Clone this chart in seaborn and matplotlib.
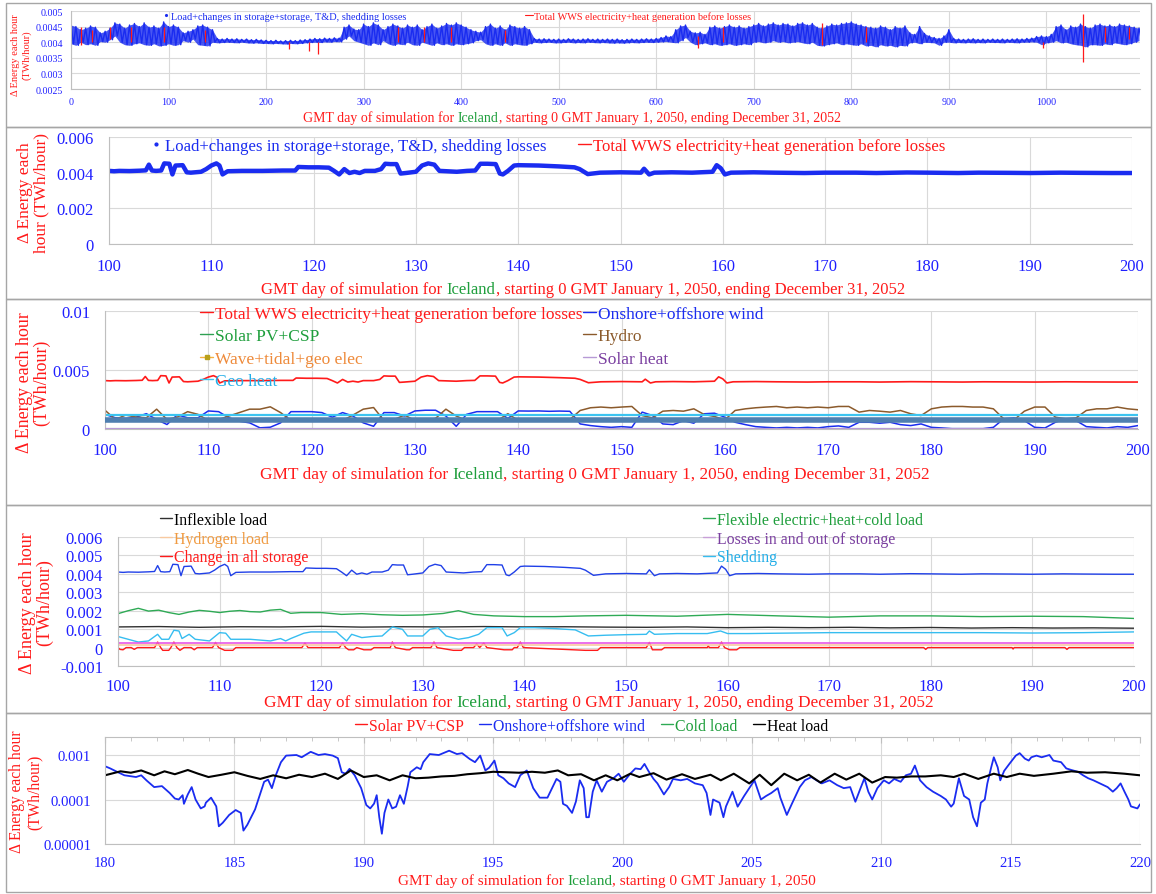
import numpy as np
import matplotlib
matplotlib.use("Agg")
import matplotlib.pyplot as plt
import seaborn as sns
from matplotlib.lines import Line2D
from matplotlib.legend import Legend
from matplotlib.patches import Rectangle
from matplotlib.ticker import MultipleLocator, FuncFormatter, LogLocator, NullFormatter

# ---------------- data ----------------
# panel 1: whole 3-year run, band of hourly load sampled every 5 days (upper / lower edge)
p1_day = np.arange(0, 1096, 5)
p1_hi = [
    0.00455, 0.00450, 0.00440, 0.00445, 0.00452, 0.00448, 0.00430, 0.00435, 0.00445, 0.00462,
    0.00458, 0.00445, 0.00455, 0.00460, 0.00450, 0.00462, 0.00448, 0.00452, 0.00445, 0.00465,
    0.00450, 0.00455, 0.00448, 0.00430, 0.00435, 0.00440, 0.00452, 0.00455, 0.00448, 0.00440,
    0.00412, 0.00410, 0.00412, 0.00410, 0.00411, 0.00409, 0.00410, 0.00408, 0.00409, 0.00407,
    0.00406, 0.00405, 0.00406, 0.00404, 0.00405, 0.00406, 0.00405, 0.00407, 0.00408, 0.00410,
    0.00412, 0.00411, 0.00413, 0.00412, 0.00414, 0.00413, 0.00448, 0.00455, 0.00442, 0.00440,
    0.00458, 0.00450, 0.00462, 0.00455, 0.00440, 0.00450, 0.00458, 0.00452, 0.00445, 0.00455,
    0.00448, 0.00455, 0.00440, 0.00450, 0.00458, 0.00445, 0.00452, 0.00460, 0.00455, 0.00462,
    0.00455, 0.00448, 0.00440, 0.00435, 0.00432, 0.00450, 0.00458, 0.00445, 0.00452, 0.00440,
    0.00455, 0.00450, 0.00445, 0.00450, 0.00440, 0.00412, 0.00410, 0.00411, 0.00410, 0.00409,
    0.00410, 0.00409, 0.00411, 0.00410, 0.00409, 0.00410, 0.00411, 0.00409, 0.00410, 0.00409,
    0.00410, 0.00409, 0.00410, 0.00408, 0.00409, 0.00410, 0.00409, 0.00410, 0.00411, 0.00410,
    0.00412, 0.00415, 0.00420, 0.00418, 0.00440, 0.00452, 0.00455, 0.00435, 0.00430, 0.00432,
    0.00425, 0.00448, 0.00452, 0.00445, 0.00450, 0.00455, 0.00448, 0.00452, 0.00445, 0.00450,
    0.00455, 0.00460, 0.00452, 0.00458, 0.00462, 0.00455, 0.00460, 0.00458, 0.00452, 0.00460,
    0.00462, 0.00455, 0.00460, 0.00448, 0.00445, 0.00452, 0.00458, 0.00455, 0.00460, 0.00462,
    0.00465, 0.00458, 0.00455, 0.00450, 0.00448, 0.00445, 0.00452, 0.00448, 0.00440, 0.00450,
    0.00445, 0.00452, 0.00430, 0.00425, 0.00450, 0.00428, 0.00420, 0.00415, 0.00412, 0.00420,
    0.00440, 0.00412, 0.00410, 0.00409, 0.00410, 0.00411, 0.00409, 0.00410, 0.00409, 0.00410,
    0.00409, 0.00410, 0.00409, 0.00410, 0.00411, 0.00410, 0.00412, 0.00413, 0.00418, 0.00420,
    0.00418, 0.00425, 0.00450, 0.00455, 0.00440, 0.00452, 0.00448, 0.00458, 0.00450, 0.00445,
    0.00455, 0.00458, 0.00452, 0.00455, 0.00450, 0.00458, 0.00455, 0.00452, 0.00448, 0.00445,
]
p1_lo = [
    0.00395, 0.00390, 0.00400, 0.00392, 0.00395, 0.00390, 0.00402, 0.00400, 0.00408, 0.00420,
    0.00400, 0.00392, 0.00390, 0.00395, 0.00398, 0.00392, 0.00390, 0.00395, 0.00388, 0.00390,
    0.00395, 0.00390, 0.00392, 0.00405, 0.00400, 0.00410, 0.00392, 0.00390, 0.00388, 0.00400,
    0.00398, 0.00399, 0.00400, 0.00399, 0.00398, 0.00400, 0.00398, 0.00397, 0.00398, 0.00396,
    0.00396, 0.00395, 0.00396, 0.00395, 0.00394, 0.00396, 0.00395, 0.00396, 0.00398, 0.00399,
    0.00400, 0.00399, 0.00401, 0.00400, 0.00402, 0.00401, 0.00410, 0.00420, 0.00405, 0.00400,
    0.00395, 0.00390, 0.00398, 0.00392, 0.00405, 0.00395, 0.00390, 0.00395, 0.00392, 0.00400,
    0.00392, 0.00390, 0.00400, 0.00395, 0.00390, 0.00398, 0.00392, 0.00395, 0.00390, 0.00395,
    0.00392, 0.00395, 0.00398, 0.00405, 0.00408, 0.00395, 0.00390, 0.00395, 0.00390, 0.00398,
    0.00390, 0.00395, 0.00392, 0.00390, 0.00395, 0.00400, 0.00398, 0.00399, 0.00400, 0.00398,
    0.00398, 0.00399, 0.00400, 0.00398, 0.00399, 0.00398, 0.00400, 0.00399, 0.00398, 0.00399,
    0.00398, 0.00397, 0.00398, 0.00397, 0.00398, 0.00399, 0.00398, 0.00399, 0.00400, 0.00399,
    0.00400, 0.00401, 0.00402, 0.00400, 0.00398, 0.00405, 0.00415, 0.00400, 0.00392, 0.00395,
    0.00398, 0.00392, 0.00395, 0.00390, 0.00392, 0.00395, 0.00390, 0.00392, 0.00395, 0.00392,
    0.00400, 0.00402, 0.00398, 0.00400, 0.00405, 0.00400, 0.00402, 0.00398, 0.00400, 0.00402,
    0.00398, 0.00395, 0.00400, 0.00390, 0.00388, 0.00392, 0.00395, 0.00398, 0.00392, 0.00395,
    0.00392, 0.00390, 0.00395, 0.00388, 0.00390, 0.00385, 0.00392, 0.00388, 0.00390, 0.00385,
    0.00390, 0.00388, 0.00398, 0.00400, 0.00395, 0.00400, 0.00399, 0.00398, 0.00390, 0.00400,
    0.00400, 0.00398, 0.00399, 0.00398, 0.00399, 0.00398, 0.00399, 0.00398, 0.00400, 0.00399,
    0.00399, 0.00398, 0.00400, 0.00399, 0.00398, 0.00400, 0.00400, 0.00401, 0.00400, 0.00392,
    0.00398, 0.00400, 0.00405, 0.00398, 0.00400, 0.00395, 0.00392, 0.00390, 0.00385, 0.00392,
    0.00392, 0.00390, 0.00395, 0.00392, 0.00398, 0.00395, 0.00392, 0.00395, 0.00400, 0.00405,
]
# red generation spikes that poke out of the blue band
p1_red_day = [10, 22, 40, 62, 95, 137, 223, 244, 253, 335, 362, 390, 445, 643, 668, 770, 815, 997, 1038, 1060, 1085]
p1_red_lo = [0.0039, 0.0040, 0.0041, 0.0040, 0.0040, 0.0040, 0.00378, 0.00372, 0.00362, 0.0040, 0.0040,
             0.0040, 0.0040, 0.0038, 0.0040, 0.0039, 0.0040, 0.00382, 0.00335, 0.0040, 0.0041]
p1_red_hi = [0.0045, 0.0044, 0.0045, 0.0045, 0.0045, 0.0044, 0.0040, 0.0040, 0.0040, 0.0045, 0.0045,
             0.0045, 0.0044, 0.0042, 0.0045, 0.0046, 0.0045, 0.0040, 0.0049, 0.0045, 0.0045]

# days 100-200: load (= total WWS generation), TWh per hour
load_pts = [
    (100, 0.00410), (100.5, 0.00408), (101, 0.00410), (102, 0.00409), (103, 0.00411),
    (103.6, 0.00413), (103.9, 0.00445), (104.2, 0.00412), (104.6, 0.00410), (105.1, 0.00412),
    (105.4, 0.00452), (105.9, 0.00450), (106.2, 0.00390), (106.5, 0.00440), (107.2, 0.00442),
    (107.6, 0.00402), (108, 0.00400), (109, 0.00405), (109.5, 0.00420), (110, 0.00440),
    (110.5, 0.00452), (110.8, 0.00440), (111.1, 0.00390), (111.6, 0.00408), (113, 0.00410),
    (115, 0.00410), (117, 0.00412), (118.2, 0.00412), (118.5, 0.00432), (119.5, 0.00430),
    (120.5, 0.00430), (121.5, 0.00428), (122, 0.00410), (122.5, 0.00390), (123, 0.00420),
    (123.5, 0.00398), (124, 0.00405), (124.5, 0.00398), (125, 0.00410), (126, 0.00410),
    (126.6, 0.00420), (127, 0.00450), (127.5, 0.00448), (128.1, 0.00448), (128.5, 0.00395),
    (129, 0.00398), (130, 0.00405), (130.6, 0.00440), (131.2, 0.00452), (131.8, 0.00445),
    (132.3, 0.00410), (133, 0.00408), (134, 0.00405), (135, 0.00410), (135.8, 0.00412),
    (136.3, 0.00450), (137, 0.00450), (137.8, 0.00448), (138.2, 0.00395), (138.5, 0.00390),
    (139, 0.00410), (139.6, 0.00440), (140, 0.00442), (142, 0.00440), (144, 0.00435),
    (145.5, 0.00430), (146, 0.00420), (146.8, 0.00392), (148, 0.00400), (150, 0.00402),
    (152, 0.00400), (152.3, 0.00422), (152.8, 0.00390), (153.3, 0.00400), (155, 0.00402),
    (157, 0.00400), (159, 0.00405), (159.4, 0.00442), (159.8, 0.00425), (160.2, 0.00390),
    (160.8, 0.00400), (163, 0.00402), (165, 0.00400), (168, 0.00398), (170, 0.00400),
    (173, 0.00400), (175, 0.00398), (178, 0.00401), (180, 0.00400), (183, 0.00398),
    (185, 0.00400), (188, 0.00399), (190, 0.00398), (193, 0.00400), (195, 0.00399),
    (198, 0.00398), (200, 0.00398),
]
load_day = [d for d, _ in load_pts]
load_val = [v for _, v in load_pts]

# panel 3 generation, one value per day from 100 to 200
p3_day = np.arange(100, 201)
wind_p3 = [
    0.00124, 0.00095, 0.00090, 0.00100, 0.00130, 0.00080, 0.00038, 0.00120, 0.00095, 0.00095,
    0.00153, 0.00147, 0.00095, 0.00066, 0.00052, 0.00010, 0.00015, 0.00052, 0.00147, 0.00147,
    0.00147, 0.00139, 0.00100, 0.00139, 0.00110, 0.00052, 0.00023, 0.00139, 0.00139, 0.00110,
    0.00153, 0.00159, 0.00159, 0.00110, 0.00023, 0.00124, 0.00147, 0.00147, 0.00147, 0.00090,
    0.00153, 0.00152, 0.00153, 0.00150, 0.00152, 0.00150, 0.00043, 0.00029, 0.00020, 0.00014,
    0.00020, 0.00014, 0.00143, 0.00114, 0.00043, 0.00037, 0.00071, 0.00049, 0.00129, 0.00134,
    0.00100, 0.00057, 0.00037, 0.00020, 0.00014, 0.00009, 0.00014, 0.00009, 0.00014, 0.00009,
    0.00020, 0.00026, 0.00014, 0.00057, 0.00057, 0.00049, 0.00057, 0.00037, 0.00029, 0.00043,
    0.00014, 0.00009, 0.00003, 0.00003, 0.00003, 0.00003, 0.00014, 0.00086, 0.00094, 0.00071,
    0.00014, 0.00009, 0.00057, 0.00086, 0.00071, 0.00020, 0.00014, 0.00009, 0.00020, 0.00014,
    0.00029,
]
hydro_p3 = [
    0.00159, 0.00081, 0.00118, 0.00101, 0.00095, 0.00168, 0.00081, 0.00101, 0.00147, 0.00124,
    0.00072, 0.00081, 0.00110, 0.00139, 0.00168, 0.00168, 0.00188, 0.00139, 0.00072, 0.00072,
    0.00072, 0.00072, 0.00074, 0.00072, 0.00118, 0.00168, 0.00182, 0.00072, 0.00081, 0.00118,
    0.00072, 0.00072, 0.00090, 0.00168, 0.00110, 0.00072, 0.00072, 0.00074, 0.00072, 0.00130,
    0.00072, 0.00072, 0.00074, 0.00072, 0.00072, 0.00081, 0.00157, 0.00180, 0.00186, 0.00180,
    0.00186, 0.00191, 0.00114, 0.00094, 0.00151, 0.00157, 0.00151, 0.00171, 0.00123, 0.00106,
    0.00077, 0.00157, 0.00171, 0.00180, 0.00186, 0.00191, 0.00180, 0.00186, 0.00180, 0.00186,
    0.00180, 0.00191, 0.00191, 0.00143, 0.00157, 0.00151, 0.00143, 0.00157, 0.00129, 0.00114,
    0.00171, 0.00186, 0.00191, 0.00191, 0.00186, 0.00186, 0.00171, 0.00086, 0.00077, 0.00151,
    0.00186, 0.00186, 0.00100, 0.00086, 0.00094, 0.00157, 0.00171, 0.00171, 0.00186, 0.00171,
    0.00163,
]
geo_heat_level = 0.00122
geo_elec_level = 0.00078
solar_level = 0.0

# panel 4 loads
flex_pts = [
    (100, 0.00184), (101, 0.00200), (102, 0.00213), (103, 0.00198), (104, 0.00203),
    (105, 0.00190), (106, 0.00180), (107, 0.00193), (108, 0.00202), (109, 0.00197),
    (110, 0.00190), (111, 0.00197), (112, 0.00201), (113, 0.00195), (114, 0.00193),
    (115, 0.00203), (116, 0.00207), (117, 0.00186), (118, 0.00190), (120, 0.00190),
    (122, 0.00180), (124, 0.00184), (126, 0.00178), (128, 0.00175), (130, 0.00177),
    (132, 0.00185), (133.5, 0.00200), (135, 0.00180), (137, 0.00172), (140, 0.00168),
    (143, 0.00168), (146, 0.00172), (150, 0.00175), (155, 0.00170), (160, 0.00180),
    (165, 0.00172), (170, 0.00165), (175, 0.00172), (180, 0.00172), (185, 0.00168),
    (190, 0.00170), (195, 0.00168), (200, 0.00158),
]
inflex_day = np.arange(100, 201, 4)
inflex_val = [0.00112, 0.00114, 0.00110, 0.00113, 0.00112, 0.00115, 0.00111, 0.00113, 0.00112,
              0.00114, 0.00112, 0.00113, 0.00111, 0.00110, 0.00112, 0.00108, 0.00110, 0.00108,
              0.00110, 0.00107, 0.00109, 0.00106, 0.00108, 0.00106, 0.00107, 0.00105]
shed_pts = [
    (100, 0.00060), (101, 0.00045), (102, 0.00030), (103, 0.00036), (103.9, 0.00072),
    (104.3, 0.00045), (105, 0.00045), (105.5, 0.00094), (106, 0.00090), (106.3, 0.00049),
    (107, 0.00072), (107.6, 0.00045), (109, 0.00036), (110, 0.00081), (110.6, 0.00078),
    (111.1, 0.00045), (113, 0.00045), (115, 0.00036), (116, 0.00049), (116.5, 0.00036),
    (117, 0.00049), (118.3, 0.00078), (119, 0.00085), (121.5, 0.00085), (122, 0.00060),
    (122.5, 0.00036), (123, 0.00072), (124, 0.00054), (125, 0.00060), (126, 0.00063),
    (127, 0.00112), (128, 0.00099), (128.5, 0.00063), (130, 0.00063), (130.7, 0.00099),
    (131.5, 0.00108), (132.3, 0.00063), (133.5, 0.00045), (134.5, 0.00054), (135.5, 0.00072),
    (136.3, 0.00108), (137.8, 0.00108), (138.3, 0.00063), (139, 0.00081), (139.6, 0.00108),
    (141, 0.00108), (143, 0.00103), (145, 0.00096), (146.3, 0.00063), (148, 0.00067),
    (150, 0.00070), (152, 0.00072), (152.3, 0.00090), (152.8, 0.00072), (155, 0.00076),
    (158, 0.00076), (159.3, 0.00090), (160, 0.00076), (162, 0.00076), (165, 0.00078),
    (170, 0.00081), (175, 0.00081), (180, 0.00081), (185, 0.00081), (190, 0.00079),
    (195, 0.00081), (200, 0.00085),
]
losses_level = 0.00027
hydrogen_level = 0.00014
storage_pts = [
    (100, 0), (100.2, -0.0001), (100.5, -0.00012), (100.8, 0), (101.3, 0), (101.6, -0.0001),
    (101.9, 0), (103.6, 0), (103.9, 0.0003), (104.2, 0), (104.4, -0.00015), (105.0, -0.00015),
    (105.2, 0), (105.5, 0.0003), (105.8, 0), (106.1, -0.00015), (106.5, 0), (107.2, 0),
    (107.5, -0.00012), (107.8, 0), (109.3, 0), (109.6, 0.00028), (109.9, 0), (110.5, -0.00015),
    (111.3, -0.00015), (111.6, 0), (118.1, 0), (118.4, 0.00025), (118.7, 0), (121.8, 0),
    (122.1, 0.00025), (122.4, 0), (122.7, -0.00012), (123.2, -0.00012), (123.5, 0),
    (124.2, -0.00012), (124.9, -0.00012), (125.2, 0), (126.8, 0), (127.0, 0.0003), (127.3, 0),
    (128.4, -0.00012), (128.7, -0.00012), (129.0, 0), (130.8, 0), (131.1, 0.0003), (131.4, 0),
    (133.0, -0.00015), (133.8, -0.00015), (134.1, 0), (135.0, 0), (135.3, 0.0002), (135.6, 0),
    (136.0, 0.00025), (136.3, 0), (138.0, -0.00012), (138.8, -0.00012), (139.0, 0), (139.3, 0),
    (139.6, 0.0003), (139.9, 0), (146.0, -0.00015), (147.2, -0.00015), (147.5, 0), (152.0, 0),
    (152.3, 0.00028), (152.6, -0.00012), (153.5, -0.00012), (153.8, 0), (158.0, 0),
    (158.1, 0.0001), (158.2, 0), (159.1, 0), (159.4, 0.0003), (159.7, 0), (160.2, -0.00012),
    (160.9, -0.00012), (161.2, 0), (179.3, 0), (179.5, -0.0001), (179.7, 0), (188.0, 0),
    (188.1, -0.00008), (188.2, 0), (193.2, 0), (193.4, -0.0001), (193.6, 0), (200, 0),
]

# panel 5 (log scale), days 180-220
wind5_pts = [
    (180, 0.00056), (180.2, 0.0005), (180.5, 0.00041), (180.75, 0.00035), (181.2, 0.00032),
    (181.4, 0.00035), (181.6, 0.00027), (181.9, 0.00019), (182.2, 0.0002), (182.5, 0.00014),
    (182.7, 0.000105), (182.85, 0.0001), (183, 0.000125), (183.05, 0.00008), (183.2, 0.00013),
    (183.35, 0.00019), (183.5, 0.0001), (183.7, 0.000063), (183.85, 0.00007), (183.9, 0.000085),
    (184.1, 0.00011), (184.3, 0.00007), (184.4, 0.000025), (184.55, 0.00003), (184.8, 0.000045),
    (185.05, 0.000058), (185.25, 0.00005), (185.35, 0.00002), (185.5, 0.000027), (185.8, 0.00006),
    (186, 0.000135), (186.15, 0.00025), (186.3, 0.00028), (186.45, 0.00018), (186.6, 0.00035),
    (186.8, 0.00069), (187, 0.00097), (187.4, 0.001), (187.6, 0.00089), (187.95, 0.00118),
    (188.25, 0.001), (188.5, 0.00105), (188.8, 0.00097), (189.0, 0.00085), (189.15, 0.00041),
    (189.3, 0.00038), (189.45, 0.00049), (189.65, 0.00035), (189.9, 0.00018), (190.1, 0.000075),
    (190.25, 0.000063), (190.4, 0.000081), (190.5, 0.000125), (190.6, 0.00004), (190.7, 0.000017),
    (190.8, 0.00005), (190.95, 0.0001), (191.1, 0.000063), (191.25, 0.000069), (191.4, 0.000125),
    (191.55, 0.00008), (191.7, 0.0002), (191.8, 0.00041), (192.05, 0.00053), (192.2, 0.00048),
    (192.3, 0.00069), (192.55, 0.00105), (192.9, 0.001), (193.3, 0.00125), (193.6, 0.00105),
    (193.8, 0.0011), (194.1, 0.00081), (194.3, 0.00069), (194.5, 0.00097), (194.7, 0.00045),
    (194.85, 0.00052), (195.05, 0.00075), (195.2, 0.00035), (195.4, 0.0003), (195.6, 0.00023),
    (195.85, 0.00019), (196.05, 0.00035), (196.3, 0.00045), (196.55, 0.00018), (196.8, 0.00011),
    (197.1, 0.00011), (197.3, 0.00019), (197.45, 0.00029), (197.6, 0.00025), (197.7, 0.00008),
    (197.85, 0.000072), (198.05, 0.00005), (198.2, 0.00009), (198.35, 0.00027), (198.5, 0.00018),
    (198.6, 0.00004), (198.7, 0.00004), (198.85, 0.00015), (199.0, 0.00027), (199.2, 0.00015),
    (199.4, 0.00025), (199.65, 0.0003), (199.85, 0.00038), (200.05, 0.00025), (200.3, 0.00038),
    (200.5, 0.0005), (200.7, 0.00048), (200.85, 0.00063), (201.0, 0.00044), (201.2, 0.00029),
    (201.35, 0.00023), (201.6, 0.00013), (201.8, 0.00019), (201.95, 0.00029), (202.25, 0.00027),
    (202.5, 0.00029), (202.8, 0.00023), (203.1, 0.00021), (203.25, 0.00014), (203.4, 0.000045),
    (203.5, 0.0001), (203.75, 0.000085), (203.9, 0.00004), (204.0, 0.00007), (204.25, 0.00015),
    (204.45, 0.000069), (204.7, 0.00012), (204.9, 0.00018), (205.1, 0.00027), (205.35, 0.0001),
    (205.55, 0.00012), (205.75, 0.00014), (206.0, 0.00018), (206.1, 0.00011), (206.35, 0.000045),
    (206.55, 0.000081), (206.85, 0.00019), (207.05, 0.00027), (207.3, 0.00032), (207.5, 0.00027),
    (207.7, 0.00023), (208.0, 0.00027), (208.3, 0.00021), (208.55, 0.00018), (208.8, 0.00019),
    (209.0, 0.000089), (209.2, 0.00018), (209.35, 0.0003), (209.5, 0.00015), (209.65, 0.0001),
    (209.85, 0.00018), (210.1, 0.00027), (210.3, 0.00023), (210.5, 0.00029), (210.75, 0.00025),
    (210.95, 0.00035), (211.15, 0.00038), (211.3, 0.00058), (211.5, 0.00027), (211.75, 0.00019),
    (212.0, 0.00015), (212.3, 0.00012), (212.5, 0.0001), (212.7, 0.000069), (212.8, 0.000081),
    (213.0, 0.0003), (213.2, 0.00012), (213.4, 0.0001), (213.55, 0.00004), (213.7, 0.000025),
    (213.85, 0.000085), (214.0, 0.0001), (214.1, 0.00023), (214.25, 0.00053), (214.35, 0.00089),
    (214.5, 0.00053), (214.6, 0.00027), (214.75, 0.00044), (214.95, 0.00063), (215.2, 0.00097),
    (215.35, 0.0011), (215.55, 0.00083), (215.7, 0.00075), (215.8, 0.00089), (216.0, 0.00097),
    (216.2, 0.00089), (216.5, 0.001), (216.65, 0.00075), (216.95, 0.00069), (217.15, 0.0005),
    (217.35, 0.00046), (217.6, 0.00042), (217.8, 0.00035), (218.0, 0.0003), (218.2, 0.00027),
    (218.45, 0.00023), (218.75, 0.00019), (218.95, 0.00015), (219.1, 0.00018), (219.25, 0.00023),
    (219.4, 0.00015), (219.55, 0.0001), (219.65, 0.00007), (219.9, 0.000063), (220.0, 0.000078),
]
heat5_pts = [
    (180, 0.00035), (180.6, 0.00043), (181, 0.0004), (181.4, 0.00045), (181.9, 0.00035),
    (182.3, 0.00043), (182.7, 0.00037), (183.2, 0.00046), (183.6, 0.00038), (184, 0.00032),
    (184.5, 0.00036), (185, 0.00041), (185.5, 0.00034), (186, 0.00029), (186.5, 0.00035),
    (187, 0.0003), (187.5, 0.00036), (188, 0.00032), (188.5, 0.00038), (189, 0.00029),
    (189.5, 0.00045), (190, 0.00032), (190.5, 0.00035), (191, 0.00027), (191.5, 0.00035),
    (192, 0.0003), (192.5, 0.00031), (193, 0.00033), (193.5, 0.00034), (194, 0.00037),
    (194.5, 0.00039), (195, 0.00042), (195.5, 0.00041), (196, 0.0004), (196.5, 0.00042),
    (197, 0.0004), (197.5, 0.00045), (197.9, 0.00035), (198.4, 0.00037), (198.9, 0.00027),
    (199.35, 0.00035), (199.8, 0.00027), (200.3, 0.00038), (200.65, 0.00032), (201.2, 0.00039),
    (201.7, 0.00028), (202.3, 0.00037), (202.8, 0.00029), (203.4, 0.00036), (203.8, 0.00027),
    (204.3, 0.00038), (204.9, 0.00023), (205.3, 0.00036), (205.75, 0.00021), (206.25, 0.00038),
    (206.75, 0.00027), (207.2, 0.00036), (207.65, 0.00024), (208.2, 0.00038), (208.65, 0.00028),
    (209.15, 0.00038), (209.65, 0.00024), (210.15, 0.00032), (210.6, 0.00031), (211.15, 0.00033),
    (211.7, 0.00033), (212.3, 0.00035), (212.8, 0.00032), (213.2, 0.00038), (213.75, 0.00029),
    (214.35, 0.00038), (214.85, 0.00032), (215.35, 0.00038), (215.9, 0.00034), (216.65, 0.00038),
    (217.35, 0.00043), (217.95, 0.0004), (218.65, 0.00041), (219.4, 0.00038), (220, 0.00035),
]

# ---------------- style ----------------
BLUE = "#1a2cf0"
RED = "#ff1a1a"
GREEN_TXT = "#1e9e3c"
TICK_BLUE = "#1f1fff"

sns.set_style("white")
plt.rcParams["font.family"] = ["Liberation Serif", "DejaVu Serif"]
plt.rcParams["axes.unicode_minus"] = False

W, H = 1156, 895
fig = plt.figure(figsize=(W / 100, H / 100), dpi=100)
renderer = fig.canvas.get_renderer()


def fx(px):
    return px / W


def fy(py):
    return 1 - py / H


def add_ax(l, t, r, b):
    return fig.add_axes([fx(l), fy(b), (r - l) / W, (b - t) / H])


def line(ax, x, y, color, lw, **kw):
    sns.lineplot(x=list(x), y=list(y), ax=ax, color=color, linewidth=lw,
                 estimator=None, sort=False, legend=False, **kw)


def style(ax, xlim, xmaj, xmin, ylim, ymaj, ymin, size, xpad, ypad):
    ax.set_xlim(*xlim)
    ax.set_ylim(*ylim)
    ax.xaxis.set_major_locator(MultipleLocator(xmaj))
    ax.xaxis.set_minor_locator(MultipleLocator(xmin))
    if ymaj is not None:
        ax.yaxis.set_major_locator(MultipleLocator(ymaj))
        if ymin is not None:
            ax.yaxis.set_minor_locator(MultipleLocator(ymin))
        ax.yaxis.set_major_formatter(FuncFormatter(lambda v, p: f"{round(v, 6):g}"))
    ax.xaxis.set_major_formatter(FuncFormatter(lambda v, p: f"{v:g}"))
    ax.grid(True, which="major", color="#d9d9d9", lw=0.8)
    ax.set_axisbelow(True)
    for s in ["top", "right"]:
        ax.spines[s].set_visible(False)
    for s in ["left", "bottom"]:
        ax.spines[s].set_color("#bfbfbf")
        ax.spines[s].set_linewidth(0.8)
    ax.tick_params(which="both", direction="in", color="#bfbfbf", labelcolor=TICK_BLUE, labelsize=size)
    ax.tick_params(which="major", length=4)
    ax.tick_params(which="minor", length=3)
    ax.tick_params(axis="x", pad=xpad)
    ax.tick_params(axis="y", pad=ypad)
    ax.set_xlabel("")
    ax.set_ylabel("")


def width(s, size):
    t = fig.text(0, 0, s, fontsize=size)
    w = t.get_window_extent(renderer).width
    t.remove()
    return w


def day_label(xc, yc, size, tail):
    pre = "GMT day of simulation for "
    ice = "Iceland"
    full = pre + ice + tail
    x0 = xc - width(full, size) / 2
    x_ice = x0 + width(pre + ice, size) - width(ice, size)
    x_tail = x0 + width(pre + ice + ",", size) - width(",", size)
    base = yc + 0.3 * size * 100 / 72
    fig.text(fx(x0), fy(base), pre, fontsize=size, color=RED, va="baseline")
    fig.text(fx(x_ice), fy(base), ice, fontsize=size, color=GREEN_TXT, va="baseline")
    fig.text(fx(x_tail), fy(base), tail, fontsize=size, color=RED, va="baseline")


def ylab(xc, yc, text, size, ls=1.1):
    fig.text(fx(xc), fy(yc), text, rotation=90, ha="center", va="center", color=RED,
             fontsize=size, multialignment="center", linespacing=ls)


def legend(ax, entries, x_px, y_px, size, ncol=1, loc="center left", lsp=0.3, colsp=0.3, hl=0.75):
    handles = [Line2D([], [], **kw) for _, kw, _ in entries]
    labels = [lab for lab, _, _ in entries]
    leg = Legend(ax, handles, labels, loc=loc, bbox_to_anchor=(fx(x_px), fy(y_px)),
                 bbox_transform=fig.transFigure, frameon=False, fontsize=size, ncol=ncol,
                 handlelength=hl, handletextpad=0.12, borderpad=0, borderaxespad=0,
                 labelspacing=lsp, columnspacing=colsp)
    for t, (_, _, c) in zip(leg.get_texts(), entries):
        t.set_color(c)
    ax.add_artist(leg)


# panel frames
for (l, t, r, b) in [(6, 4, 1151, 128), (6, 128, 1151, 300), (6, 300, 1151, 506),
                     (6, 506, 1151, 714), (6, 714, 1151, 893)]:
    fig.add_artist(Rectangle((fx(l), fy(b)), (r - l) / W, (b - t) / H, transform=fig.transFigure,
                             fill=False, edgecolor="#a6a6a6", lw=1.0))

TAIL = ", starting 0 GMT January 1, 2050, ending December 31, 2052"

# ---------------- panel 1 ----------------
ax1 = add_ax(71, 12, 1140, 90)
zig_x = np.column_stack([p1_day, p1_day + 2.5]).ravel()
zig_y = np.column_stack([p1_hi, p1_lo]).ravel()
ax1.fill_between(p1_day, p1_lo, p1_hi, color=BLUE, lw=0, alpha=0.8, zorder=2)
line(ax1, zig_x, zig_y, BLUE, 1.0)
ax1.vlines(p1_red_day, p1_red_lo, p1_red_hi, color=RED, lw=0.9, zorder=3)
style(ax1, (0, 1096), 100, 20, (0.0025, 0.005), 0.0005, None, 7.2, 6, 6)
ylab(21.5, 55, "Δ Energy each hour\n(TWh/hour)", 7.5, 1.25)
day_label(572, 118, 10, TAIL)
legend(ax1, [("Load+changes in storage+storage, T&D, shedding losses",
              dict(color=BLUE, marker=".", ls="none", markersize=2.5), BLUE)], 162, 17, 7.4)
legend(ax1, [("Total WWS electricity+heat generation before losses",
              dict(color=RED, lw=0.8), RED)], 525, 17, 7.4)

# ---------------- panel 2 ----------------
ax2 = add_ax(109, 138, 1132, 245)
line(ax2, load_day, load_val, RED, 1.0)
line(ax2, load_day, load_val, BLUE, 3.2)
style(ax2, (100, 200), 10, 1, (0, 0.006), 0.002, 0.0004, 12, 10, 10.8)
ylab(33, 193, "Δ Energy each\nhour (TWh/hour)", 12.5, 1.0)
day_label(583, 289, 12, TAIL)
legend(ax2, [("Load+changes in storage+storage, T&D, shedding losses",
              dict(color=BLUE, marker=".", ls="none", markersize=4), BLUE)], 150, 147, 12.1)
legend(ax2, [("Total WWS electricity+heat generation before losses",
              dict(color=RED, lw=1.0), RED)], 578, 147, 12.1)

# ---------------- panel 3 ----------------
ax3 = add_ax(105, 312, 1138, 430)
line(ax3, load_day, load_val, RED, 1.2)
line(ax3, p3_day, wind_p3, BLUE, 1.1)
line(ax3, p3_day, hydro_p3, "#8b5a2b", 1.1)
ax3.axhline(geo_heat_level, color="#3cc4f0", lw=1.6, zorder=2.5)
ax3.axhline(geo_elec_level, color="#4f7fb0", lw=4.0, zorder=2.6)
ax3.axhline(solar_level, color="#2ea052", lw=1.5, zorder=2.4)
ax3.axhline(solar_level, color="#b79ad6", lw=1.5, zorder=2.6)
style(ax3, (100, 200), 10, 1, (0, 0.01), 0.005, 0.001, 12, 9.4, 10.8)
ylab(33, 383, "Δ Energy each hour\n(TWh/hour)", 12.9, 1.05)
day_label(595, 474, 12.4, TAIL)
legend(ax3, [
    ("Total WWS electricity+heat generation before losses", dict(color=RED, lw=1.0), RED),
    ("Solar PV+CSP", dict(color="#2ea052", lw=1.0), "#1e9e3c"),
    ("Wave+tidal+geo elec", dict(color="#f5b041", lw=1.0, marker="s", markersize=3,
                                 markerfacecolor="#b8a01a", markeredgecolor="#b8a01a"), "#ee8a3a"),
    ("Geo heat", dict(color="#3cc4f0", lw=1.0), "#22aee8"),
    ("Onshore+offshore wind", dict(color=BLUE, lw=1.0), BLUE),
    ("Hydro", dict(color="#8b5a2b", lw=1.0), "#8b5a2b"),
    ("Solar heat", dict(color="#b79ad6", lw=1.0), "#7a3fa0"),
], 200, 307, 12.5, ncol=2, loc="upper left", lsp=0.35, colsp=0.0)

# ---------------- panel 4 ----------------
ax4 = add_ax(118, 538, 1134, 667)
line(ax4, load_day, load_val, "#2040e8", 1.0)
line(ax4, [d for d, _ in flex_pts], [v for _, v in flex_pts], "#2eaa55", 1.0)
line(ax4, inflex_day, inflex_val, "#303030", 1.0)
line(ax4, [d for d, _ in shed_pts], [v for _, v in shed_pts], "#36bdf0", 1.0)
ax4.axhline(losses_level, color="#e857e8", lw=1.2, zorder=2.5)
ax4.axhline(hydrogen_level, color="#f8c9a0", lw=1.2, zorder=2.5)
line(ax4, [d for d, _ in storage_pts], [v for _, v in storage_pts], RED, 1.0)
style(ax4, (100, 200), 10, 1, (-0.001, 0.006), 0.001, 0.0002, 12, 8.6, 10.8)
ylab(36, 603, "Δ Energy each hour\n(TWh/hour)", 13, 1.0)
day_label(599, 702, 12.4, TAIL)
legend(ax4, [
    ("Inflexible load", dict(color="#303030", lw=1.0), "black"),
    ("Hydrogen load", dict(color="#f8c9a0", lw=1.0), "#f09a40"),
    ("Change in all storage", dict(color=RED, lw=1.0), RED),
], 160, 513, 11.4, loc="upper left", lsp=0.16)
legend(ax4, [
    ("Flexible electric+heat+cold load", dict(color="#2eaa55", lw=1.0), "#1e9e3c"),
    ("Losses in and out of storage", dict(color="#c8a0d8", lw=1.0), "#7a3fa0"),
    ("Shedding", dict(color="#36bdf0", lw=1.0), "#22aee8"),
], 703, 513, 11.4, loc="upper left", lsp=0.16)

# ---------------- panel 5 ----------------
ax5 = add_ax(105, 738, 1140, 845)
line(ax5, [d for d, _ in wind5_pts], [v for _, v in wind5_pts], BLUE, 1.3)
line(ax5, [d for d, _ in heat5_pts], [v for _, v in heat5_pts], "black", 1.5)
ax5.set_yscale("log")
style(ax5, (180, 220), 5, 1, (1e-5, 0.00254), None, None, 10.6, 8.6, 10)
ax5.yaxis.set_major_locator(LogLocator(base=10, numticks=10))
ax5.yaxis.set_minor_locator(LogLocator(base=10, subs=np.arange(2, 10), numticks=20))
ax5.yaxis.set_major_formatter(FuncFormatter(lambda v, p: f"{v:.5f}".rstrip("0")))
ax5.yaxis.set_minor_formatter(NullFormatter())
ax5.spines["top"].set_visible(True)
ax5.spines["top"].set_color("#bfbfbf")
ax5.tick_params(axis="x", which="both", top=True)
ylab(26, 792, "Δ Energy each hour\n(TWh/hour)", 11.2, 1.15)
day_label(607, 880, 11, ", starting 0 GMT January 1, 2050")
legend(ax5, [
    ("Solar PV+CSP", dict(color=RED, lw=1.0), RED),
    ("Onshore+offshore wind", dict(color=BLUE, lw=1.0), BLUE),
    ("Cold load", dict(color="#2eaa55", lw=1.0), "#1e9e3c"),
    ("Heat load", dict(color="black", lw=1.0), "black"),
], 355, 727, 11.4, ncol=4, colsp=1.0)

fig.savefig("out.png", dpi=100, facecolor="white")
